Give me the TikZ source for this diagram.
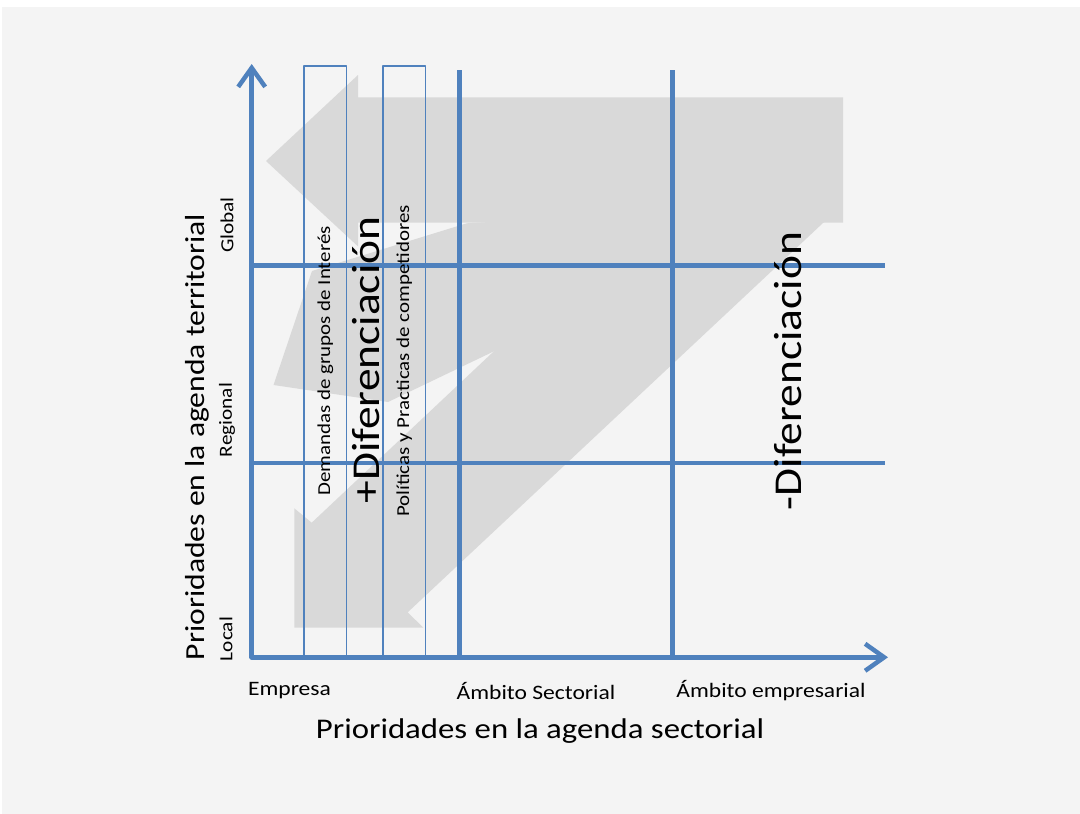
\documentclass[tikz,border=0pt]{standalone}
\usepackage{fontspec}
\setmainfont{Carlito}[FakeStretch=1.15]
\usetikzlibrary{arrows.meta}
\definecolor{azul}{HTML}{4F81BD}
\definecolor{fondo}{HTML}{F4F4F4}
\definecolor{flecha}{HTML}{D9D9D9}

\begin{document}
\begin{tikzpicture}[line cap=round,line join=round,>={Straight Barb[length=19pt,width=27pt]},x=1pt,y=-1pt,
  eje/.style={color=azul,line width=4.5pt},
  rejilla/.style={color=azul,line width=4.5pt,line cap=butt},
  caja/.style={draw=azul,line width=1.4pt,rotate=90,minimum width=589.7pt,minimum height=42.7pt,inner sep=0pt,font=\fontsize{18.2}{22}\selectfont},
  etiqueta/.style={font=\fontsize{20.5}{24}\selectfont},
  nivel/.style={rotate=90,font=\fontsize{18.5}{22}\selectfont},
  titulo/.style={font=\fontsize{28.5}{34}\selectfont},
  grande/.style={rotate=90,font=\fontsize{39.5}{46}\selectfont}]
\useasboundingbox (0,0) rectangle (1080,814);
\fill[white] (0,0) rectangle (1080,814);
\fill[fondo] (2,7) rectangle (1080,814);

%flechas grises
\fill[flecha] (843,97.3) -- (358,97.3) -- (358,75) -- (266,161) -- (358,246.4) -- (358,222.7) -- (843,222.7) -- cycle;
\fill[flecha] (836.8,210) -- (823.3,222.7) -- (407.7,612.3) -- (423.3,627.7) -- (294.3,627.7) -- (294.3,508.3) -- (311.7,522.7) -- (644,210) -- cycle;
\fill[flecha] (700,210) -- (466.7,223.3) -- (312,271) -- (273.5,385) -- (388,402) -- (496.7,350) -- (700,300) -- cycle;

%rejilla
\foreach \x in {459.3,672.7}
{
\draw[rejilla] (\x,70) -- (\x,657.3);
}
\foreach \y in {265.7,463}
{
\draw[rejilla] (251.7,\y) -- (885,\y);
}

%ejes
\coordinate (origen) at (251.7,657.3);
\coordinate (ytope) at (251.7,64);
\coordinate (xtope) at (888,657.3);
\draw[eje,->] (origen) -- (ytope);
\draw[eje,->] (origen) -- (xtope);

%cajas
\node[caja] (demandas) at (325.3,360.9) {Demandas de grupos de Interés};
\node[caja] (politicas) at (404.3,360.9) {Políticas y Practicas de competidores};

\node[grande] (masdif) at (366,360) {+Diferenciación};
\node[grande] (menosdif) at (788,371) {-Diferenciación};

%niveles
\node[nivel] (global) at (227,225) {Global};
\node[nivel] (regional) at (227,420) {Regional};
\node[nivel] (local) at (226,639) {Local};
\node[titulo,rotate=90,font=\fontsize{27.5}{33}\selectfont] (ytitulo) at (197,437) {Prioridades en la agenda territorial};

\node[etiqueta] (empresa) at (289.5,691) {Empresa};
\node[etiqueta] (sectorial) at (536,691) {Ámbito Sectorial};
\node[etiqueta] (empresarial) at (771,691) {Ámbito empresarial};
\node[titulo] (xtitulo) at (540,731) {Prioridades en la agenda sectorial};
\end{tikzpicture}
\end{document}
